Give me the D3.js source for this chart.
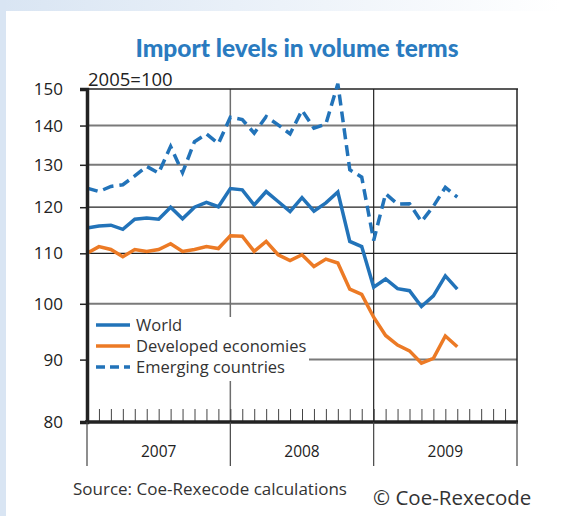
<!DOCTYPE html>
<html>
<head>
<meta charset="utf-8">
<script src="https://cdn.jsdelivr.net/npm/d3@7"></script>
<style>
  html, body { margin: 0; padding: 0; background: #fff; }
  svg { display: block; }
  text { font-family: "Open Sans", "Liberation Sans", Arial, sans-serif; fill: #222; }
</style>
</head>
<body>
<svg id="svg" width="572" height="516"></svg>
<script>
// monthly, Jan 2007 .. Aug 2009
const years = ["2007", "2008", "2009"];
const yTicks = [80, 90, 100, 110, 120, 130, 140, 150];

const world = [
  115.4, 115.8, 116.0, 115.1, 117.3, 117.6, 117.3, 120.0, 117.4, 120.0, 121.1, 120.1,
  124.3, 124.0, 120.5, 123.6, 121.3, 119.0, 122.2, 119.1, 121.0, 123.5, 112.5, 111.4,
  103.2, 104.8, 102.9, 102.5, 99.5, 101.5, 105.4, 102.8
];
const developed = [
  110.0, 111.4, 110.8, 109.3, 110.8, 110.4, 110.8, 112.0, 110.4, 110.8, 111.4, 111.0,
  113.7, 113.6, 110.4, 112.5, 109.7, 108.5, 109.7, 107.3, 108.8, 108.0, 102.8, 101.8,
  97.5, 94.2, 92.5, 91.5, 89.4, 90.2, 94.1, 92.2
];
const emerging = [
  124.4, 123.6, 124.8, 125.2, 127.3, 129.6, 128.0, 134.6, 128.1, 135.8, 137.8, 135.3,
  142.2, 141.6, 138.0, 142.4, 140.2, 137.8, 144.1, 139.3, 140.4, 151.5, 128.8, 127.0,
  112.7, 123.1, 120.7, 120.8, 116.8, 120.2, 124.6, 122.3
];

const series = [
  { name: "World", values: world, color: "#2273b9", dash: null },
  { name: "Developed economies", values: developed, color: "#ec7a25", dash: null },
  { name: "Emerging countries", values: emerging, color: "#2273b9", dash: "11,6" }
];

const svg = d3.select("#svg");
const plotLeft = 87, plotRight = 517, plotTop = 89, plotBottom = 422;

const x = d3.scaleLinear().domain([0, 36]).range([plotLeft, plotRight]);
const y = d3.scaleLog().domain([80, 150]).range([plotBottom, plotTop]);

// page background: blue strip on the left and a fading band on top
const defs = svg.append("defs");
const grad = defs.append("linearGradient").attr("id", "band");
grad.append("stop").attr("offset", "0%").attr("stop-color", "#d9e5f3");
grad.append("stop").attr("offset", "98%").attr("stop-color", "#ffffff");
svg.append("rect").attr("x", 0).attr("y", 0).attr("width", 572).attr("height", 11).attr("fill", "url(#band)");
svg.append("rect").attr("x", 0).attr("y", 0).attr("width", 6).attr("height", 516).attr("fill", "#d9e5f3");

// title
svg.append("text")
  .attr("x", 297).attr("y", 57)
  .attr("text-anchor", "middle")
  .style("font-family", "Lato, 'Open Sans', sans-serif")
  .style("font-weight", "900")
  .style("font-size", "24.5px")
  .style("fill", "#2a7bc0")
  .text("Import levels in volume terms");

svg.append("text")
  .attr("x", 88).attr("y", 86)
  .style("font-size", "18.5px")
  .text("2005=100");

// horizontal gridlines
const gridStyle = { 140: ["#7a7a7a", 2], 130: ["#7a7a7a", 2], 120: ["#222", 1.2], 110: ["#222", 1.2], 100: ["#7a7a7a", 2], 90: ["#7a7a7a", 2] };
svg.append("g")
  .selectAll("line")
  .data(yTicks.filter((d) => d > 80 && d < 150))
  .join("line")
  .attr("x1", plotLeft).attr("x2", plotRight)
  .attr("y1", (d) => y(d)).attr("y2", (d) => y(d))
  .attr("stroke", (d) => gridStyle[d][0])
  .attr("stroke-width", (d) => gridStyle[d][1]);

// year dividers inside the plot
svg.append("line")
  .attr("x1", x(12)).attr("x2", x(12)).attr("y1", plotTop).attr("y2", plotBottom)
  .attr("stroke", "#6e6e6e").attr("stroke-width", 1.5);
svg.append("line")
  .attr("x1", x(24)).attr("x2", x(24)).attr("y1", plotTop).attr("y2", plotBottom)
  .attr("stroke", "#222").attr("stroke-width", 1.2);

// frame top / right
svg.append("line").attr("x1", plotLeft).attr("x2", plotRight + 1).attr("y1", plotTop).attr("y2", plotTop)
  .attr("stroke", "#222").attr("stroke-width", 1.5);
svg.append("line").attr("x1", plotRight).attr("x2", plotRight).attr("y1", plotTop).attr("y2", plotBottom)
  .attr("stroke", "#222").attr("stroke-width", 1.5);

// legend (white box hides the grid behind it)
svg.append("rect").attr("x", plotLeft + 2).attr("y", 317).attr("width", 220).attr("height", 64).attr("fill", "#fff");
const legend = svg.append("g").selectAll("g").data(series).join("g")
  .attr("transform", (d, i) => `translate(96,${325 + i * 21})`);
legend.append("line")
  .attr("x1", 0).attr("x2", 34)
  .attr("stroke", (d) => d.color)
  .attr("stroke-width", 3.5)
  .attr("stroke-dasharray", (d) => (d.dash ? "9,5" : null));
legend.append("text")
  .attr("x", 40).attr("y", 6)
  .style("font-size", "16.5px")
  .style("fill", "#333")
  .text((d) => d.name);

// series
const line = d3.line().x((d, i) => x(i)).y((d) => y(d));
svg.append("g")
  .selectAll("path")
  .data(series)
  .join("path")
  .attr("d", (d) => line(d.values))
  .attr("fill", "none")
  .attr("stroke", (d) => d.color)
  .attr("stroke-width", 3.5)
  .attr("stroke-linejoin", "miter")
  .attr("stroke-dasharray", (d) => d.dash);

// y axis
const yAxis = svg.append("g")
  .attr("transform", `translate(${plotLeft},0)`)
  .call(d3.axisLeft(y).tickValues(yTicks).tickFormat(d3.format("d")).tickSize(7).tickPadding(17));
yAxis.select(".domain").attr("stroke", "#222").attr("stroke-width", 3.5);
yAxis.selectAll(".tick line").attr("stroke", "#222").attr("stroke-width", 1.5);
yAxis.selectAll(".tick text").style("font-size", "17px").style("fill", "#222");

// month ticks on the x axis
const xAxis = svg.append("g")
  .attr("transform", `translate(0,${plotBottom})`)
  .call(d3.axisTop(x).tickValues(d3.range(1, 36)).tickSize(13).tickFormat(""));
xAxis.select(".domain").remove();
xAxis.selectAll(".tick line").attr("stroke", "#444").attr("stroke-width", 1);

svg.append("line").attr("x1", plotLeft - 2).attr("x2", plotRight + 1).attr("y1", plotBottom).attr("y2", plotBottom)
  .attr("stroke", "#222").attr("stroke-width", 3.5);

// year separators and labels below the axis
svg.append("g").selectAll("line").data([0, 12, 24, 36]).join("line")
  .attr("x1", (d) => x(d)).attr("x2", (d) => x(d))
  .attr("y1", plotBottom).attr("y2", 466)
  .attr("stroke", "#444").attr("stroke-width", 1.2);
svg.append("g").selectAll("text").data(years).join("text")
  .attr("x", (d, i) => x(i * 12 + 6))
  .attr("y", 457)
  .attr("text-anchor", "middle")
  .style("font-size", "15.5px")
  .text((d) => d);

svg.append("text")
  .attr("x", 73).attr("y", 495)
  .style("font-size", "17px")
  .style("fill", "#333")
  .text("Source: Coe-Rexecode calculations");

svg.append("text")
  .attr("x", 373).attr("y", 505)
  .style("font-size", "20.5px")
  .style("fill", "#333")
  .text("© Coe-Rexecode");
</script>
</body>
</html>
